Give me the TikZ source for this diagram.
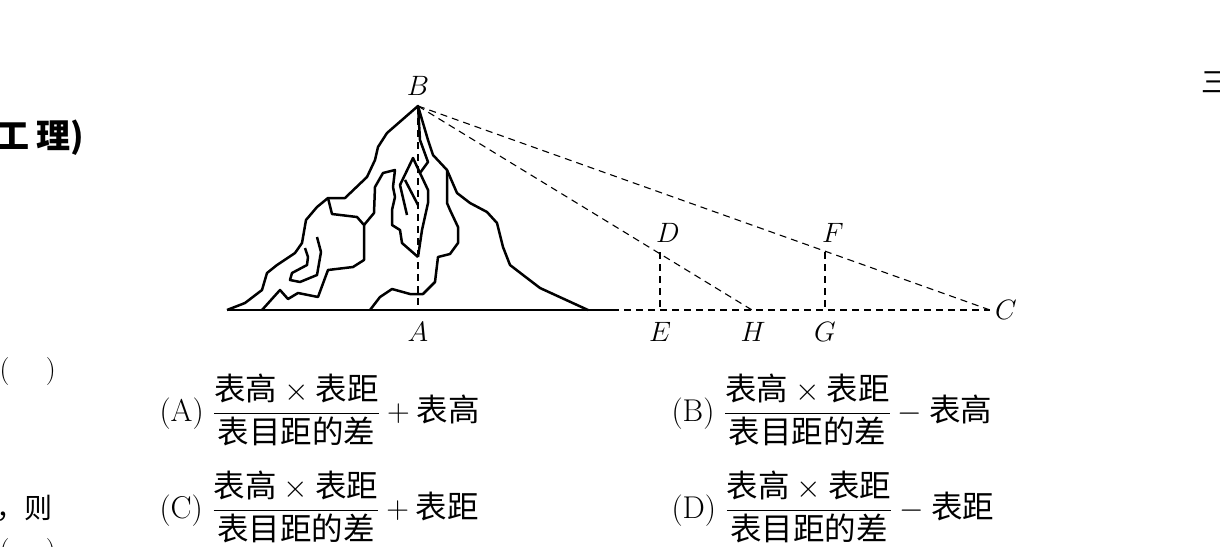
\RequirePackage{fix-cm}
\documentclass[tikz,border=0pt]{standalone}
\usepackage{amsmath}
\usepackage{fontspec}
\newfontfamily\cjk{Noto Sans CJK SC}
\newcommand\zh[1]{\mbox{\cjk #1}}
\begin{document}
\begin{tikzpicture}[x=1pt,y=-1pt,
  mt/.style={line width=2.5pt,line join=round},
  dsh/.style={dashed,dash pattern=on 7pt off 5pt,line width=1.1pt},
  lab/.style={font=\fontsize{28}{32}\selectfont},
  opt/.style={font=\fontsize{31.5}{36}\selectfont,anchor=west}]
\useasboundingbox (0,0) rectangle (1220,546);
\clip (0,0) rectangle (1220,546);
% coordinates
\coordinate (B) at (418,106);
\coordinate (A) at (418,310);
\coordinate (C) at (990,310);
\coordinate (Dp) at (660,252);
\coordinate (Ep) at (660,310);
\coordinate (Fp) at (825,252);
\coordinate (Gp) at (825,310);
\coordinate (Hp) at (752,310);
\coordinate (L) at (227,310);
\coordinate (R) at (612,310);
% mountain outline
\draw[mt] (L)--(245,303)--(262,290)--(267,273)--(277,265)--(295,253)--(302,243)--(306,220)--(317,207)--(328,198)--(345,198)--(367,177)--(375,160)--(378,147)--(387,133)--(B)
 --(428,140)--(433,155)--(447,170)--(457,193)--(470,203)--(487,212)--(497,223)--(503,247)--(510,265)--(523,275)--(540,288)--(588,310);
\draw[mt] (L)--(R);
% inner lines
\draw[mt] (262,310)--(280,290)--(288,299)--(298,293)--(318,297)--(328,270)--(353,267)--(364,260)--(364,225)--(357,217)--(332,214)--(328,198);
\draw[mt] (317,237)--(321,252)--(317,275)--(300,282)--(290,280)--(292,273)--(307,265)--(308,257)--(305,248);
\draw[mt] (370,310)--(380,297)--(392,289)--(410,294)--(423,294)--(435,282)--(438,257)--(450,254)--(458,243)--(458,227)--(450,210)--(447,203)--(447,170);
\draw[mt] (364,225)--(374,213)--(375,187)--(383,173)--(395,170)--(393,187)--(395,197)--(392,210)--(392,225)--(400,230)--(402,243)--(418,257);
\draw[mt] (B)--(420,140)--(428,162)--(420,173)--(428,190)--(428,203)--(422,230)--(418,257);
\draw[mt] (407,215)--(400,185)--(413,158)--(420,173);
\draw[mt] (405,180)--(418,205);
% dashed
\draw[dsh] (B)--(A);
\draw[dsh] (R)--(C);
\draw[dsh] (B)--(C);
\draw[dsh] (B)--(Hp);
\draw[dsh] (Dp)--(Ep);
\draw[dsh] (Fp)--(Gp);
% labels
\node[lab] (lB) at (418,86) {$B$};
\node[lab] (lA) at (418,332) {$A$};
\node[lab] (lE) at (660,332) {$E$};
\node[lab] (lH) at (753,332) {$H$};
\node[lab] (lG) at (825,332) {$G$};
\node[lab] (lD) at (668,233) {$D$};
\node[lab] (lF) at (833,233) {$F$};
\node[lab] (lC) at (1006,310) {$C$};
% options
\node[opt] (oA) at (156,410) {(A) $\dfrac{\zh{表高}\times\zh{表距}}{\zh{表目距的差}}+\zh{表高}$};
\node[opt] (oB) at (668,410) {(B) $\dfrac{\zh{表高}\times\zh{表距}}{\zh{表目距的差}}-\zh{表高}$};
\node[opt] (oC) at (156,507) {(C) $\dfrac{\zh{表高}\times\zh{表距}}{\zh{表目距的差}}+\zh{表距}$};
\node[opt] (oD) at (668,507) {(D) $\dfrac{\zh{表高}\times\zh{表距}}{\zh{表目距的差}}-\zh{表距}$};
% edge fragments
\node[anchor=east,font=\fontsize{34}{36}\selectfont\cjk\bfseries] (t1) at (88,138) {工 理)};
\node[anchor=west,font=\fontsize{28}{30}\selectfont\cjk] (t2) at (1198,82) {三};
\node[anchor=west,font=\fontsize{28}{30}\selectfont] (t3) at (-4,372) {(\quad\ )};
\node[anchor=east,font=\fontsize{28}{30}\selectfont\cjk] (t4) at (56,508) {，则};
\node[anchor=west,font=\fontsize{28}{30}\selectfont] (t5) at (-4,553) {(\quad\ )};
\end{tikzpicture}
\end{document}
